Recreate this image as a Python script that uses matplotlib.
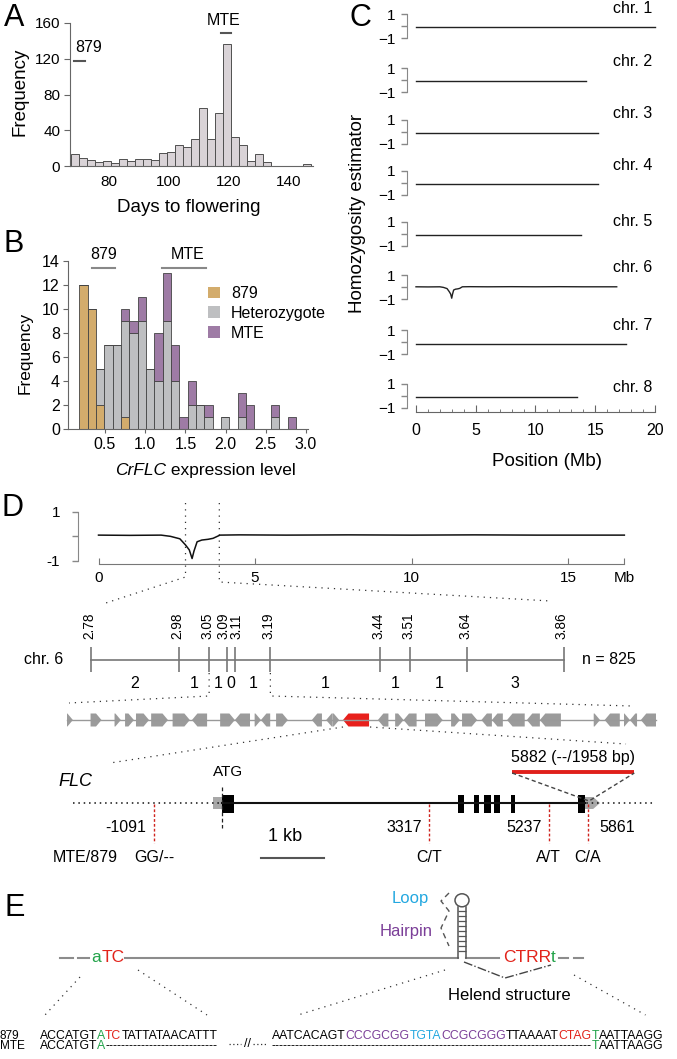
import numpy as np
import matplotlib
matplotlib.use("Agg")
import matplotlib.pyplot as plt
from matplotlib.patches import Polygon, Rectangle, Ellipse, Patch

plt.rcParams['font.family'] = ['Liberation Sans', 'DejaVu Sans']
plt.rcParams['axes.facecolor'] = 'none'

# ---------------- data ----------------
# A: days to flowering
days_edges = np.linspace(67.4, 147.4, 31)
days_counts = [13, 9, 7, 5, 6, 3, 8, 6, 8, 8, 7, 14, 16, 24, 21, 30, 65, 30, 59, 137,
               32, 23, 6, 13, 5, 0, 0, 0, 0, 2]

# B: CrFLC expression, stacked by genotype
expr_edges = np.linspace(0.181, 2.875, 27)
expr_879 = [12, 10, 2, 0, 0, 1, 0, 0, 0, 0, 0, 0, 0, 0, 0, 0, 0, 0, 0, 0, 0, 0, 0, 0, 0, 0]
expr_het = [0, 0, 3, 7, 7, 8, 8, 9, 5, 4, 9, 4, 0, 2, 2, 1, 0, 1, 0, 1, 0, 0, 0, 1, 0, 0]
expr_mte = [0, 0, 0, 0, 0, 1, 1, 2, 0, 4, 4, 3, 1, 2, 0, 1, 0, 0, 0, 2, 2, 0, 0, 1, 0, 1]

# C: homozygosity estimator per chromosome
chr_names = ['chr. 1', 'chr. 2', 'chr. 3', 'chr. 4', 'chr. 5', 'chr. 6', 'chr. 7', 'chr. 8']
chr6_pos = [0, 1, 2, 2.3, 2.6, 2.78, 2.9, 2.99, 3.05, 3.15, 3.3, 3.5, 3.66, 3.88, 4.5,
            6, 8, 10, 12, 14, 16.8]
chr6_val = [0.05, 0.04, 0.05, 0.0, -0.1, -0.35, -0.55, -0.9, -0.6, -0.22, -0.15, -0.12,
            -0.08, 0.05, 0.06, 0.05, 0.06, 0.05, 0.06, 0.05, 0.05]
chr_pos = [[0, 5, 10, 15, 20],
           [0, 5, 10, 14.25],
           [0, 5, 10, 15.2],
           [0, 5, 10, 15.2],
           [0, 5, 10, 13.85],
           chr6_pos,
           [0, 5, 10, 15, 17.55],
           [0, 5, 10, 13.5]]
chr_val = [[-0.1, -0.1, -0.1, -0.1, -0.1],
           [-0.1, -0.1, -0.1, -0.1],
           [-0.1, -0.1, -0.1, -0.1],
           [-0.1, -0.1, -0.1, -0.1],
           [-0.1, -0.1, -0.1, -0.1],
           chr6_val,
           [-0.1, -0.1, -0.1, -0.1, -0.1],
           [-0.1, -0.1, -0.1, -0.1]]

# D: fine mapping on chr. 6
fine_marks = [2.78, 2.98, 3.05, 3.09, 3.11, 3.19, 3.44, 3.51, 3.64, 3.86]
fine_counts = [2, 1, 1, 0, 1, 1, 1, 1, 3]
gene_start = [0, 5.6, 11.3, 13.8, 16.4, 20.0, 25.1, 29.7, 36.4, 39.9, 44.6, 46.1, 49.7,
              58.2, 61.6, 63.1, 65.6, 73.9, 78.0, 80.0, 85.1, 91.3, 93.9, 98.5, 101.0,
              104.6, 109.3, 112.4, 125.2, 127.8, 132.4, 133.8, 136.4]
gene_end = [1.4, 8.2, 12.8, 15.9, 19.5, 24.0, 29.2, 33.3, 39.9, 43.5, 46.1, 48.3, 52.5,
            60.6, 63.1, 64.7, 71.8, 76.4, 80.0, 83.1, 89.3, 93.4, 97.5, 101.0, 103.6,
            108.8, 112.4, 117.4, 126.7, 131.4, 133.8, 135.5, 140.0]
gene_strand = [1, 1, 1, 1, 1, 1, 1, -1, 1, -1, 1, -1, 1,
               -1, -1, 1, -1, -1, 1, -1, 1, 1, 1, -1, -1,
               -1, -1, -1, 1, -1, 1, -1, -1]
flc_gene = 16
flc_exons = [(0, 185), (3790, 3878), (4038, 4119), (4192, 4311), (4365, 4449),
             (4628, 4690), (5700, 5817)]
flc_utr5 = (-140, 0)
flc_utr3 = (5817, 6058)
snp_pos = [-1091, 3317, 5237, 5861]
snp_alleles = ['GG/--', 'C/T', 'A/T', 'C/A']
ins_pos = 5882
ins_start, ins_len = 4650, 1958

# E: sequences
GREEN, RED, PURPLE, BLUE = '#23A34A', '#E2231A', '#7B3F98', '#24A8E0'
seq879_left = [('ACCATGT', 'k'), ('A', GREEN), ('TC', RED), ('TATTATAACATTT', 'k')]
seq879_right = [('AATCACAGT', 'k'), ('CCCGCGG', PURPLE), ('TGTA', BLUE), ('CCGCGGG', PURPLE),
                ('TTAAAAT', 'k'), ('CTAG', RED), ('T', GREEN), ('AATTAAGG', 'k')]
seqmte_left = [('ACCATGT', 'k'), ('A', GREEN), ('-' * 28, 'k')]

# ---------------- figure helpers ----------------
W, H = 677, 1059
fig = plt.figure(figsize=(W / 100, H / 100), dpi=100)


def pax(x0, y0, x1, y1):
    return fig.add_axes([x0 / W, 1 - y1 / H, (x1 - x0) / W, (y1 - y0) / H])


def ftext(x, y, s, **kw):
    return fig.text(x / W, 1 - y / H, s, **kw)


ov = fig.add_axes([0, 0, 1, 1])
ov.set_xlim(0, W)
ov.set_ylim(H, 0)
ov.axis('off')

DOT = (0, (1, 4))

for lab, x, y in [('A', 14, 18.5), ('B', 14, 244), ('C', 360, 18.5), ('D', 13, 508), ('E', 15, 907.5)]:
    ftext(x, y, lab, fontsize=22, ha='center', va='center')

# ---------------- A ----------------
axA = pax(70, 23, 313, 166)
axA.bar(days_edges[:-1], days_counts, width=np.diff(days_edges), align='edge',
        color='#D9D3D7', edgecolor='#505050', linewidth=0.7)
axA.set_xlim(66.97, 148)
axA.set_ylim(0, 160)
axA.set_yticks([0, 40, 80, 120, 160])
axA.set_xticks([80, 100, 120, 140])
axA.tick_params(axis='y', length=4, width=0.8, pad=3, labelsize=11, color='#666')
axA.tick_params(axis='x', length=0, pad=6.5, labelsize=11)
for s in ['top', 'right']:
    axA.spines[s].set_visible(False)
for s in ['left', 'bottom']:
    axA.spines[s].set_color('#666')
axA.plot([68.3, 72.0], [117.5, 117.5], color='#555', lw=1.5, clip_on=False)
axA.text(73.3, 133, '879', ha='center', va='center', fontsize=11.5)
axA.plot([117.2, 120.7], [148.4, 148.4], color='#555', lw=1.5, clip_on=False)
axA.text(118.3, 162.8, 'MTE', ha='center', va='center', fontsize=11.5, clip_on=False)
ftext(20, 92, 'Frequency', rotation=90, fontsize=13.5, ha='center', va='center')
ftext(189, 208, 'Days to flowering', fontsize=13.5, ha='center', va='center')

# ---------------- B ----------------
C879, CHET, CMTE = '#D3AC6C', '#BEBFC1', '#9E7BA5'
axB = pax(67.5, 261, 308, 429)
wB = np.diff(expr_edges)
left = expr_edges[:-1]
axB.bar(left, expr_879, width=wB, align='edge', color=C879, edgecolor='#444', linewidth=0.6)
axB.bar(left, expr_het, bottom=expr_879, width=wB, align='edge', color=CHET,
        edgecolor='#444', linewidth=0.6)
axB.bar(left, expr_mte, bottom=np.add(expr_879, expr_het), width=wB, align='edge',
        color=CMTE, edgecolor='#444', linewidth=0.6)
axB.set_xlim(0.0336, 3.025)
axB.set_ylim(0, 14)
axB.set_yticks(range(0, 15, 2))
axB.set_xticks([0.5, 1.0, 1.5, 2.0, 2.5, 3.0])
axB.set_xticklabels(['0.5', '1.0', '1.5', '2.0', '2.5', '3.0'])
axB.tick_params(axis='y', length=3.5, width=0.8, pad=2, labelsize=11.5, color='#666')
axB.tick_params(axis='x', length=3, width=0.8, pad=3, labelsize=11.5, color='#666')
for s in ['top', 'right']:
    axB.spines[s].set_visible(False)
for s in ['left', 'bottom']:
    axB.spines[s].set_color('#666')
axB.plot([0.338, 0.624], [13.45, 13.45], color='#888', lw=1.5, clip_on=False)
axB.plot([1.213, 1.752], [13.45, 13.45], color='#888', lw=1.5, clip_on=False)
axB.text(0.479, 14.55, '879', ha='center', va='center', fontsize=11.5, clip_on=False)
axB.text(1.526, 14.55, 'MTE', ha='center', va='center', fontsize=11.5, clip_on=False)
handles = [Patch(facecolor=C879, label='879'), Patch(facecolor=CHET, label='Heterozygote'),
           Patch(facecolor=CMTE, label='MTE')]
axB.legend(handles=handles, loc='upper left', bbox_to_anchor=(208 / W, 1 - 286 / H),
           bbox_transform=fig.transFigure, frameon=False, fontsize=11.5,
           handlelength=0.75, handleheight=0.75, handletextpad=0.7, labelspacing=0.3,
           borderpad=0, borderaxespad=0)
ftext(25.5, 353, 'Frequency', rotation=90, fontsize=12.5, ha='center', va='center')
t = ftext(115, 470.7, 'CrFLC', fontsize=12.5, style='italic', ha='left', va='center')
ov.annotate(' expression level', xy=(1, 0), xycoords=t, fontsize=12.5, ha='left', va='bottom')

# ---------------- C ----------------
line_y = [27.5, 81.4, 132.9, 183.9, 235.0, 288.6, 343.6, 397.1]
label_y = [8.9, 61.4, 113.6, 166.0, 221.4, 267.9, 325.7, 387.0]
for i in range(8):
    top = line_y[i] - 13.2
    ax = pax(407, top, 662, top + 12 * 2.34)
    ax.plot(chr_pos[i], chr_val[i], color='#222', lw=1.0)
    ax.set_xlim(-0.753, 20.59)
    ax.set_ylim(-1.34, 1)
    for s in ['top', 'right']:
        ax.spines[s].set_visible(False)
    ax.spines['left'].set_bounds(-1, 1)
    ax.spines['left'].set_color('#888')
    ax.set_yticks([-1, 0, 1])
    ax.set_yticklabels(['\u22121', '', '1'])
    ax.tick_params(axis='y', length=4.5, width=1, color='#888', pad=4, labelsize=11)
    if i < 7:
        ax.spines['bottom'].set_visible(False)
        ax.set_xticks([])
    else:
        ax.spines['bottom'].set_bounds(0, 20)
        ax.spines['bottom'].set_color('#666')
        ax.set_xticks([0, 5, 10, 15, 20])
        ax.set_xticks(range(0, 21), minor=True)
        ax.tick_params(axis='x', which='major', direction='in', length=5, color='#666',
                       pad=8, labelsize=11.5)
        ax.tick_params(axis='x', which='minor', direction='in', length=2.5, color='#666')
    ftext(652, label_y[i], chr_names[i], fontsize=11.5, ha='right', va='center')
ftext(357, 213, 'Homozygosity estimator', rotation=90, fontsize=13.5, ha='center', va='center')
ftext(547, 462, 'Position (Mb)', fontsize=13.5, ha='center', va='center')

# ---------------- D: chr. 6 profile ----------------
axD = pax(77.5, 511.7, 640, 564.3)
axD.plot(chr6_pos, chr6_val, color='#111', lw=1.1)
axD.set_xlim(-0.671, 17.30)
axD.set_ylim(-1.134, 1)
for s in ['top', 'right']:
    axD.spines[s].set_visible(False)
axD.spines['left'].set_bounds(-1, 1)
axD.spines['left'].set_color('#888')
axD.spines['bottom'].set_bounds(0, chr6_pos[-1])
axD.spines['bottom'].set_color('#777')
axD.set_yticks([-1, 0, 1])
axD.set_yticklabels(['-1', '', '1'])
axD.tick_params(axis='y', length=4.5, width=1, color='#888', pad=8, labelsize=11)
axD.set_xticks([0, 5, 10, 15, chr6_pos[-1]])
axD.set_xticklabels(['0', '5', '10', '15', 'Mb'])
axD.tick_params(axis='x', direction='in', length=4, color='#777', pad=4.5, labelsize=11)


def dpx(mb):
    return 98.5 + 31.3 * mb


def fpx(mb):
    return 91 + 437.5 * (mb - 2.78)


# zoom connectors
ov.plot([dpx(fine_marks[0])] * 2 + [105.8], [503, 577, 603], color='#333', lw=0.9, ls=DOT)
ov.plot([dpx(fine_marks[-1])] * 2 + [550.5], [503, 582, 601], color='#333', lw=0.9, ls=DOT)
ov.plot([fpx(fine_marks[2])] * 2 + [69], [673, 696, 703], color='#333', lw=0.9, ls=DOT)
ov.plot([fpx(fine_marks[5])] * 2 + [632.5], [673, 696, 706], color='#333', lw=0.9, ls=DOT)

# fine map
axF = pax(0, 600, 677, 700)
axF.set_xlim(2.78 - 91 / 437.5, 2.78 + 586 / 437.5)
axF.set_ylim(700, 600)
axF.axis('off')
axF.plot([fine_marks[0], fine_marks[-1]], [660, 660], color='#777', lw=1.2)
axF.vlines(fine_marks, 647, 672, color='#777', lw=1.2)
label_nudge = [0, 0, 0, -2.0, 2.5, 0, 0, 0, 0, 0]   # px, keeps 3.09 / 3.11 apart
for m, dx in zip(fine_marks, label_nudge):
    axF.text(m + (dx - 1.5) / 437.5, 639, '%.2f' % m, rotation=90, ha='center',
             va='bottom', fontsize=9.8)
mids = [(a + b) / 2 for a, b in zip(fine_marks[:-1], fine_marks[1:])]
for m, c in zip(mids, fine_counts):
    axF.text(m, 684, str(c), ha='center', va='center', fontsize=11.5)
ftext(44, 659, 'chr. 6', fontsize=11.5, ha='center', va='center')
ftext(609, 659, 'n = 825', fontsize=11.5, ha='center', va='center')

# gene row
axG = pax(0, 700, 677, 740)
axG.set_xlim(-67 / 4.207, 610 / 4.207)
axG.set_ylim(740, 700)
axG.axis('off')
axG.plot([gene_start[0], gene_end[-1]], [720, 720], color='#999', lw=1)


def arrow(ax, s, e, strand, y, h, head, color):
    hd = min(head, e - s)
    if strand > 0:
        pts = [(s, y - h), (e - hd, y - h), (e, y), (e - hd, y + h), (s, y + h)]
    else:
        pts = [(e, y - h), (s + hd, y - h), (s, y), (s + hd, y + h), (e, y + h)]
    ax.add_patch(Polygon(pts, closed=True, facecolor=color, edgecolor='none'))


for k, (s, e, st) in enumerate(zip(gene_start, gene_end, gene_strand)):
    arrow(axG, s, e, st, 720, 6.5, 1.3, '#E8201C' if k == flc_gene else '#9B9B9B')

ov.plot([343, 110], [727, 763], color='#333', lw=0.9, ls=DOT)
ov.plot([370, 626], [727, 744], color='#333', lw=0.9, ls=DOT)

# FLC structure
axL = pax(0, 740, 677, 880)
axL.set_xlim(-222 / 0.0624, 455 / 0.0624)
axL.set_ylim(880, 740)
axL.axis('off')
axL.plot([-2385, 6923], [803, 803], color='#111', lw=1.1, ls=(0, (1, 2.5)))
axL.plot([flc_exons[0][0], flc_exons[-1][1]], [803, 803], color='#111', lw=1.5)
axL.add_patch(Rectangle((flc_utr5[0], 797), flc_utr5[1] - flc_utr5[0], 12,
                        facecolor='#A8A8A8', edgecolor='none'))
arrow(axL, flc_utr3[0], flc_utr3[1], 1, 803, 6, 110, '#A8A8A8')
for s, e in flc_exons:
    axL.add_patch(Rectangle((s, 794.5), e - s, 18, facecolor='#000', edgecolor='none'))
axL.plot([0, 0], [787, 828], color='#222', lw=0.9, ls=(0, (3, 2)))
axL.text(90, 772, 'ATG', ha='center', va='center', fontsize=11)
axL.plot([ins_start, ins_start + ins_len], [772.3, 772.3], color='#E0201B', lw=2.8,
         solid_capstyle='butt')
axL.plot([ins_start, ins_pos, ins_start + ins_len], [773, 801, 773], color='#444', lw=1,
         ls=(0, (3, 2)))
axL.text(ins_start + ins_len / 2, 758, '%d (--/%d bp)' % (ins_pos, ins_len),
         ha='center', va='center', fontsize=11.5)
axL.vlines(snp_pos, 804, 843, color='#D0241F', lw=1, linestyles=(0, (2, 1.5)))
for k, (p, a) in enumerate(zip(snp_pos, snp_alleles)):
    if k < 3:
        axL.text(p - 120, 828, str(p), ha='right', va='center', fontsize=11.5)
    else:
        axL.text(p + 190, 828, str(p), ha='left', va='center', fontsize=11.5)
    axL.text(p, 858, a, ha='center', va='center', fontsize=11.5)
axL.text(-2190, 858, 'MTE/879', ha='center', va='center', fontsize=11.5)
axL.plot([630, 1630], [858, 858], color='#555', lw=1.5)
axL.text(1010, 836.7, '1 kb', ha='center', va='center', fontsize=13)
ftext(58, 781.7, 'FLC', fontsize=13, style='italic', ha='left', va='center')

# ---------------- E ----------------
GL = '#8C8C8C'
ov.plot([60.4, 73.4], [957.7, 957.7], color=GL, lw=1.5)
ov.plot([77.7, 88.5], [957.7, 957.7], color=GL, lw=1.5)
ov.plot([125.2, 458], [957.7, 957.7], color=GL, lw=1.5)
ov.plot([466, 498.7], [957.7, 957.7], color=GL, lw=1.5)
ov.plot([559, 568], [957.7, 957.7], color=GL, lw=1.5)
ov.plot([574, 583], [957.7, 957.7], color=GL, lw=1.5)
ov.plot([458, 458], [957.7, 906.5], color='#555', lw=1.1)
ov.plot([466, 466], [957.7, 906.5], color='#555', lw=1.1)
ov.hlines(np.arange(911, 955, 5), 458, 466, color='#555', lw=0.9)
ov.add_patch(Ellipse((462, 900.3), 14, 13, facecolor='white', edgecolor='#555', lw=1.1))

t = ov.text(91.5, 957.7, 'a', color=GREEN, fontsize=12.5, ha='left', va='center')
ov.annotate('TC', xy=(1, 0), xycoords=t, color=RED, fontsize=12.5, ha='left', va='bottom')
t = ov.text(503, 957.7, 'CTRR', color=RED, fontsize=12.5, ha='left', va='center')
ov.annotate('t', xy=(1, 0), xycoords=t, color=GREEN, fontsize=12.5, ha='left', va='bottom')
ov.text(410, 898.3, 'Loop', color=BLUE, fontsize=12, ha='center', va='center')
ov.text(406, 931.7, 'Hairpin', color=PURPLE, fontsize=12, ha='center', va='center')
ov.plot([449, 441, 449, 441, 449], [893, 901, 911, 928, 946], color='#555', lw=1,
        ls=(0, (4, 3)))
ov.plot([464, 505, 551], [962, 978, 965], color='#444', lw=1, ls='-.')
ov.text(509.5, 995, 'Helend structure', fontsize=12, ha='center', va='center')

ov.plot([80, 45], [977, 1015], color='#333', lw=0.9, ls=DOT)
ov.plot([138, 207], [970, 1015], color='#333', lw=0.9, ls=DOT)
ov.plot([445, 298], [970, 1015], color='#333', lw=0.9, ls=DOT)
ov.plot([574, 645.5], [975, 1015], color='#333', lw=0.9, ls=DOT)


def chain(x, y, parts, size=8.8):
    t = ov.text(x, y, parts[0][0], color=parts[0][1], fontsize=size, ha='left', va='center')
    for s, c in parts[1:]:
        t = ov.annotate(s, xy=(1, 0), xycoords=t, color=c, fontsize=size,
                        ha='left', va='bottom')
    return t


Y1, Y2 = 1035.7, 1045.7
ov.text(0, Y1, '879', fontsize=8.5, ha='left', va='center')
ov.text(0, Y2, 'MTE', fontsize=8.5, ha='left', va='center')
chain(39.7, Y1, seq879_left)
last = chain(272, Y1, seq879_right)
chain(39.7, Y2, seqmte_left)
t = ov.annotate('AATTAAGG', xy=(1, 0), xycoords=last, xytext=(0, -7.2),
                textcoords='offset points', fontsize=8.8, ha='right', va='bottom')
t = ov.annotate('T', xy=(0, 0), xycoords=t, color=GREEN, fontsize=8.8, ha='right', va='bottom')
ov.annotate('-' * 80, xy=(0, 0), xycoords=t, fontsize=8.8, ha='right', va='bottom')
ov.plot([229, 241], [1044, 1044], color='#333', lw=0.9, ls=(0, (1, 2)))
ov.plot([253, 265.5], [1044, 1044], color='#333', lw=0.9, ls=(0, (1, 2)))
ov.text(247, 1044, '//', fontsize=9, ha='center', va='center')

fig.savefig('out.png', dpi=100, facecolor='white')
